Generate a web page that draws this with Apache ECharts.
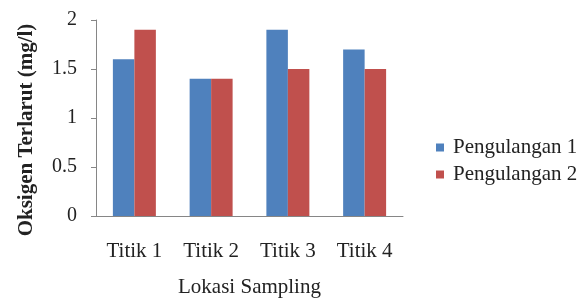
<!DOCTYPE html>
<html>
<head>
<meta charset="utf-8">
<script src="https://cdn.jsdelivr.net/npm/echarts@6/dist/echarts.min.js"></script>
<style>
  html, body { margin: 0; padding: 0; background: #fff; }
  #chart { width: 585px; height: 304px; }
</style>
</head>
<body>
<div id="chart"></div>
<script>
// data
var kategori = ['Titik 1', 'Titik 2', 'Titik 3', 'Titik 4'];
var pengulangan1 = [1.6, 1.4, 1.9, 1.7];
var pengulangan2 = [1.9, 1.4, 1.5, 1.5];
var namaSeri = ['Pengulangan 1', 'Pengulangan 2'];

var serif = '"Liberation Serif", "Times New Roman", serif';

var chart = echarts.init(document.getElementById('chart'));

var option = {
    animation: false,
    color: ['#4F81BD', '#C0504D'],
    grid: { left: 96, top: 20, right: 182, bottom: 88 },
    legend: {
        orient: 'vertical',
        left: 431,
        top: 132,
        itemWidth: 8,
        itemHeight: 8,
        itemGap: 6,
        icon: 'rect',
        data: namaSeri,
        textStyle: { fontFamily: serif, fontSize: 21, color: '#222', padding: [0, 0, 0, 4] }
    },
    xAxis: {
        type: 'category',
        data: kategori,
        name: 'Lokasi Sampling',
        nameLocation: 'middle',
        nameGap: 61,
        nameTextStyle: { fontFamily: serif, fontSize: 21, color: '#222' },
        axisLine: { lineStyle: { color: '#868686', width: 1 } },
        axisTick: { show: false },
        axisLabel: { fontFamily: serif, fontSize: 21, color: '#222', margin: 25 }
    },
    yAxis: {
        type: 'value',
        min: 0,
        max: 2,
        interval: 0.5,
        name: 'Oksigen Terlarut (mg/l)',
        nameLocation: 'middle',
        nameGap: 59,
        // judul sumbu sedikit lebih ke bawah, seperti di gambar
        nameTextStyle: { fontFamily: serif, fontSize: 21, fontWeight: 'bold', color: '#222', padding: [0, 24, 0, 0] },
        axisLine: { show: true, lineStyle: { color: '#868686', width: 1 } },
        axisTick: { show: true, length: 5, lineStyle: { color: '#868686' } },
        splitLine: { show: false },
        axisLabel: { fontFamily: serif, fontSize: 20, color: '#222', margin: 19 }
    },
    series: [
        { name: namaSeri[0], type: 'bar', data: pengulangan1, barGap: '0%', barCategoryGap: '44%' },
        { name: namaSeri[1], type: 'bar', data: pengulangan2, barGap: '0%', barCategoryGap: '44%' }
    ]
};

chart.setOption(option);
</script>
</body>
</html>
